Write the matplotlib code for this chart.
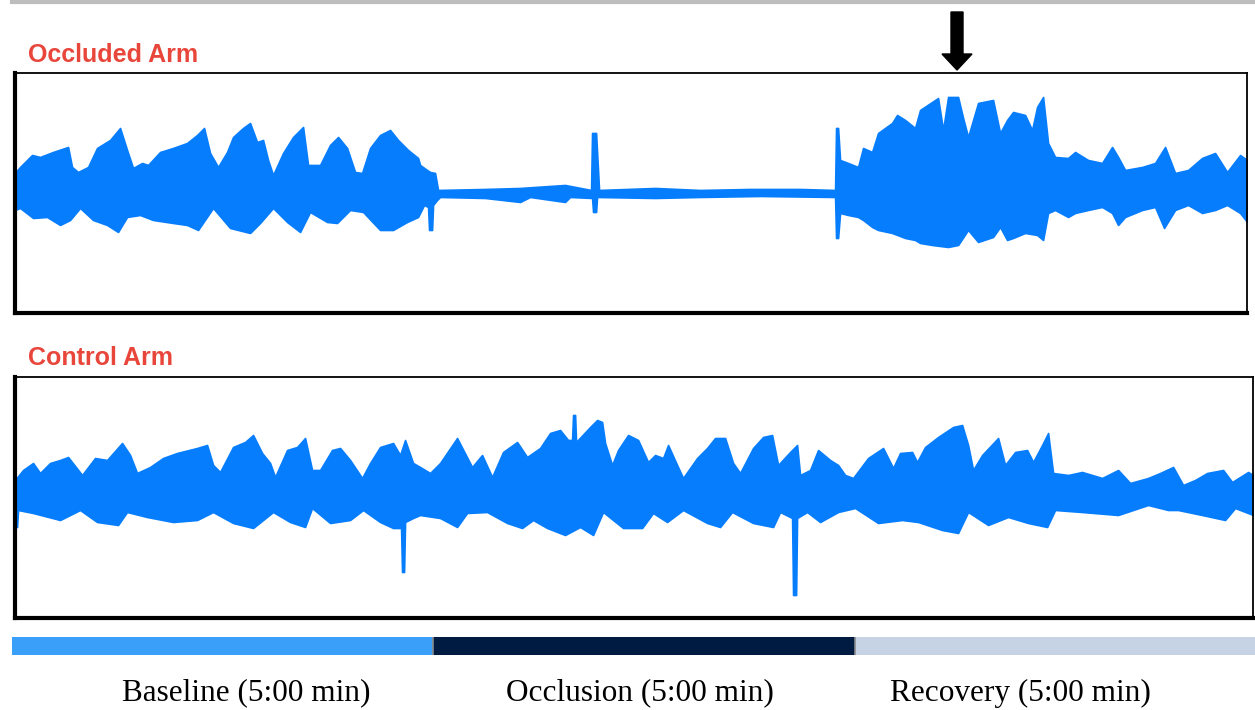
import numpy as np
import matplotlib
matplotlib.use("Agg")
import matplotlib.pyplot as plt
from matplotlib.patches import FancyArrow
from matplotlib.lines import Line2D

# envelope of the recorded signal, read off the picture
# t = sample position (0..~1235 across the 15 min record), a = amplitude (arb. units)
occ_up_t = [0, 5, 17, 25, 38, 53, 57, 63, 73, 82, 95, 105, 112, 118, 127, 133, 145, 158, 172, 182,
            189, 195, 203, 212, 218, 228, 235, 242, 248, 253, 258, 268, 278, 288, 293, 305, 315, 323,
            332, 340, 347, 355, 365, 375, 383, 393, 403, 405, 412, 415, 420, 423, 470, 505, 550, 576,
            577, 581, 584, 640, 685, 735, 785, 820, 821, 823, 825, 833, 843, 848, 857, 863, 877, 882,
            890, 900, 905, 917, 923, 928, 933, 943, 948, 953, 963, 978, 985, 992, 998, 1010, 1017,
            1022, 1028, 1033, 1040, 1053, 1060, 1073, 1087, 1097, 1103, 1110, 1127, 1140, 1150, 1160,
            1173, 1187, 1200, 1212, 1225, 1232]
occ_up_a = [20, 26, 38, 36, 41, 46, 26, 21, 26, 45, 53, 65, 43, 25, 30, 28, 41, 45, 50, 58,
            65, 40, 26, 41, 56, 65, 70, 51, 53, 33, 18, 40, 56, 66, 28, 28, 48, 56,
            45, 21, 20, 45, 58, 63, 53, 43, 35, 28, 23, 21, 20, 3, 4, 5, 8, 3,
            60, 60, 3, 5, 3, 4, 4, 3, 65, 65, 33, 30, 26, 45, 41, 60, 70, 78,
            73, 65, 83, 91, 95, 63, 96, 96, 75, 56, 90, 93, 60, 73, 81, 78, 63,
            86, 96, 50, 36, 35, 41, 33, 30, 46, 36, 23, 26, 30, 46, 20,
            23, 35, 40, 21, 38, 33]
occ_lo_t = [0, 5, 18, 32, 45, 55, 65, 78, 92, 103, 112, 125, 138, 158, 172, 183, 198, 215, 235, 245,
            258, 272, 285, 295, 312, 322, 335, 348, 365, 378, 392, 403, 409, 413, 414, 417, 418, 422,
            425, 470, 505, 515, 550, 555, 577, 578, 581, 582, 640, 685, 745, 820, 821, 823, 825, 833,
            843, 848, 857, 863, 877, 890, 900, 905, 917, 933, 943, 953, 963, 978, 985, 992, 998, 1010,
            1022, 1028, 1033, 1040, 1053, 1060, 1073, 1087, 1097, 1103, 1110, 1127, 1140, 1149, 1160,
            1173, 1187, 1200, 1212, 1225, 1232]
occ_lo_a = [-17, -15, -25, -24, -32, -27, -15, -27, -32, -39, -24, -22, -27, -30, -32, -37, -15, -35, -40, -30,
            -15, -29, -39, -19, -29, -30, -17, -19, -37, -37, -29, -24, -12, -14, -37, -37, -12, -7,
            -4, -5, -9, -4, -9, -4, -5, -19, -19, -4, -5, -4, -3, -4, -45, -45, -20, -22,
            -24, -27, -34, -37, -40, -45, -47, -50, -52, -54, -52, -37, -49, -44, -34, -47, -45, -40,
            -42, -47, -20, -17, -24, -20, -17, -14, -20, -32, -24, -17, -14, -35, -17,
            -12, -20, -17, -12, -20, -29]

ctl_up_t = [0, 8, 18, 25, 35, 45, 53, 67, 80, 92, 107, 115, 122, 135, 148, 162, 182, 192, 198, 205,
            218, 230, 238, 247, 255, 260, 272, 282, 290, 297, 305, 317, 325, 335, 347, 355, 365, 378,
            385, 390, 398, 405, 415, 425, 442, 457, 467, 477, 488, 502, 512, 525, 535, 545, 553, 557,
            558, 560, 561, 575, 582, 587, 590, 597, 603, 613, 623, 633, 640, 648, 653, 662, 668, 682,
            692, 700, 710, 718, 725, 738, 748, 757, 763, 775, 782, 785, 795, 803, 815, 823, 830, 838,
            853, 868, 878, 885, 897, 902, 910, 923, 938, 947, 953, 958, 967, 983, 990, 1000, 1012,
            1018, 1027, 1033, 1038, 1053, 1067, 1087, 1103, 1115, 1133, 1145, 1158, 1168, 1180, 1192,
            1208, 1217, 1233, 1238]
ctl_up_a = [17, 27, 34, 24, 34, 37, 40, 22, 39, 37, 54, 42, 24, 30, 39, 44, 49, 52, 32, 25,
            50, 55, 62, 44, 34, 20, 47, 50, 59, 27, 27, 47, 49, 37, 19, 34, 50, 54,
            42, 57, 34, 30, 24, 34, 59, 30, 42, 20, 45, 55, 40, 49, 64, 67, 57, 57,
            82, 82, 55, 70, 77, 75, 54, 32, 47, 62, 57, 35, 42, 39, 52, 32, 19, 39,
            49, 59, 59, 34, 24, 49, 60, 62, 32, 45, 52, 22, 27, 47, 37, 32, 22, 19,
            39, 49, 29, 44, 45, 35, 50, 60, 70, 72, 52, 27, 42, 59, 32, 45, 47,
            35, 52, 64, 24, 22, 25, 19, 27, 14, 19, 24, 30, 12, 17, 24,
            27, 15, 25, 22]
ctl_lo_t = [0, 2, 3, 18, 45, 65, 82, 103, 112, 132, 158, 182, 198, 218, 238, 258, 275, 290, 297, 315,
            335, 348, 365, 378, 386, 387, 389, 390, 398, 405, 425, 442, 452, 472, 492, 507, 518, 532,
            550, 565, 578, 588, 608, 627, 638, 652, 668, 692, 705, 717, 738, 758, 765, 777, 778, 781,
            782, 792, 805, 823, 840, 863, 887, 903, 927, 943, 953, 973, 993, 1013, 1032, 1040, 1067,
            1103, 1133, 1153, 1163, 1187, 1210, 1220, 1238]
ctl_lo_a = [-30, -30, -13, -16, -23, -13, -25, -28, -15, -20, -25, -23, -15, -26, -31, -15, -25, -30, -11, -26,
            -23, -13, -25, -31, -31, -75, -75, -25, -21, -18, -21, -30, -16, -15, -26, -31, -23, -31,
            -38, -30, -38, -15, -31, -31, -16, -25, -13, -26, -30, -15, -26, -30, -15, -21, -98, -98,
            -21, -15, -25, -15, -11, -26, -23, -25, -33, -36, -15, -28, -20, -26, -30, -13, -15,
            -18, -8, -13, -13, -18, -23, -11, -18]

titles = ["Occluded Arm", "Control Arm"]
phases = ["Baseline (5:00 min)", "Occlusion (5:00 min)", "Recovery (5:00 min)"]
phase_min = [5, 5, 5]
phase_colors = ["#3a9ff8", "#001b41", "#c6d3e5"]

sig_color = "#067dfd"
title_color = "#e9463b"

fig = plt.figure(figsize=(12.55, 7.10), dpi=100)

ax1 = fig.add_axes([0.0120, 0.5592, 0.9817, 0.3380])
ax2 = fig.add_axes([0.0120, 0.1296, 0.9865, 0.3394])

panels = [(ax1, occ_up_t, occ_up_a, occ_lo_t, occ_lo_a, 1232, 120, 120),
          (ax2, ctl_up_t, ctl_up_a, ctl_lo_t, ctl_lo_a, 1238, 121, 120)]
for ax, ut, ua, lt, la, xmax, ylo, yhi in panels:
    ax.fill_between(ut, 0, ua, color=sig_color, lw=1.2, edgecolor=sig_color)
    ax.fill_between(lt, la, 0, color=sig_color, lw=1.2, edgecolor=sig_color)
    ax.set_xlim(0, xmax)
    ax.set_ylim(-ylo, yhi)
    ax.set_xticks([])
    ax.set_yticks([])
    ax.spines['left'].set_linewidth(3)
    ax.spines['bottom'].set_linewidth(3)
    ax.spines['top'].set_linewidth(1.3)
    ax.spines['right'].set_linewidth(1.3)

fig.text(28/1255, 1 - 62/710, titles[0], color=title_color, fontsize=18,
         fontweight='bold', family='Liberation Sans', va='baseline')
fig.text(28/1255, 1 - 365/710, titles[1], color=title_color, fontsize=18,
         fontweight='bold', family='Liberation Sans', va='baseline')

# gray rule across the top
fig.add_artist(Line2D([12/1255, 1], [1 - 2/710, 1 - 2/710], color='#bdbdbd', lw=3))

# arrow marking the peak of the recovery response
fig.add_artist(FancyArrow(957/1255, 1 - 12/710, 0, -58/710, width=12/1255,
                          head_width=30/1255, head_length=16/710,
                          length_includes_head=True, color='black',
                          transform=fig.transFigure))

# phase bar (runs a little past the right edge of the figure)
axb = fig.add_axes([12/1255, 0.0775, 1264/1255, 0.0254])
left = 0
for dur, col in zip(phase_min, phase_colors):
    axb.barh(0, dur, left=left, height=1, color=col, edgecolor='none')
    left += dur
for b in np.cumsum(phase_min)[:-1]:
    axb.axvline(b, color='#8a8a8a', lw=1.2)
axb.set_xlim(0, sum(phase_min))
axb.set_ylim(-0.5, 0.5)
axb.axis('off')

for xp, lab in zip([246, 640, 1020], phases):
    fig.text(xp/1255, 1 - 693/710, lab, ha='center', va='center', fontsize=22.5,
             family='Liberation Serif')

fig.savefig("out.png", dpi=100)
